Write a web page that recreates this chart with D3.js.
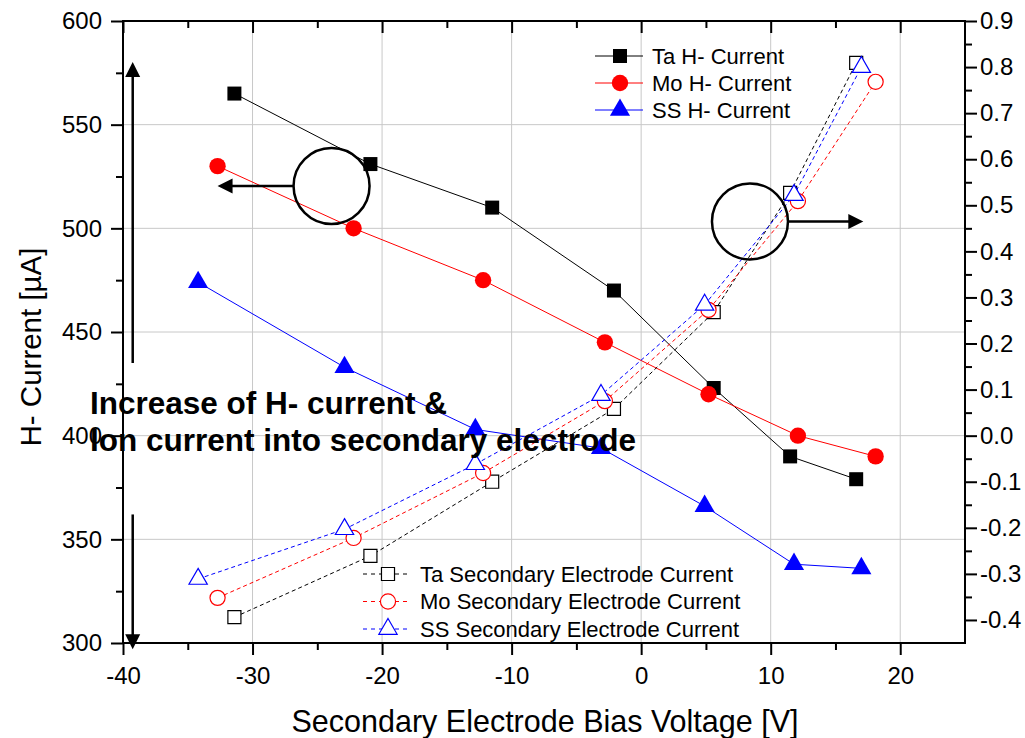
<!DOCTYPE html>
<html>
<head>
<meta charset="utf-8">
<script src="https://cdn.jsdelivr.net/npm/d3@7"></script>
<style>
body { margin: 0; background: #fff; }
svg { display: block; font-family: "Liberation Sans", Arial, sans-serif; }
</style>
</head>
<body>
<div id="chart"></div>
<script>
// bias voltage of each point, per target material
const taBias = [-31.4, -20.9, -11.5, -2.1, 5.6, 11.5, 16.6];
const moBias = [-32.7, -22.2, -12.2, -2.8, 5.2, 12.1, 18.1];
const ssBias = [-34.2, -22.9, -12.8, -3.1, 4.9, 11.8, 17.0];

// H- current [uA] (left axis)
const taH = [565, 531, 510, 470, 423, 390, 379];
const moH = [530, 500, 475, 445, 420, 400, 390];
const ssH = [474, 433, 403, 394, 366, 338, 336];

// secondary electrode current (right axis)
const taSec = [-0.394, -0.261, -0.100, 0.058, 0.268, 0.527, 0.809];
const moSec = [-0.352, -0.222, -0.081, 0.075, 0.273, 0.509, 0.768];
const ssSec = [-0.311, -0.203, -0.062, 0.088, 0.284, 0.522, 0.800];

const xTicks = [-40, -30, -20, -10, 0, 10, 20];
const leftTicks = [300, 350, 400, 450, 500, 550, 600];
const rightTicks = d3.range(-4, 10).map(i => i / 10);

const width = 1025, height = 738;
const margin = { top: 21, right: 60, bottom: 95, left: 123 };

const svg = d3.select("#chart").append("svg")
    .attr("width", width)
    .attr("height", height);

const x = d3.scaleLinear().domain([-40, 25]).range([margin.left, width - margin.right]);
const y = d3.scaleLinear().domain([300, 600]).range([height - margin.bottom, margin.top]);
const y2 = d3.scaleLinear().domain([-0.45, 0.9]).range([height - margin.bottom, margin.top]);

// grid
svg.append("g").selectAll("line")
    .data(xTicks.slice(1))
    .join("line")
    .attr("x1", d => x(d)).attr("x2", d => x(d))
    .attr("y1", margin.top).attr("y2", height - margin.bottom)
    .attr("stroke", "#c8c8c8").attr("stroke-width", 1);

svg.append("g").selectAll("line")
    .data(leftTicks.slice(1, -1))
    .join("line")
    .attr("x1", margin.left).attr("x2", width - margin.right)
    .attr("y1", d => y(d)).attr("y2", d => y(d))
    .attr("stroke", "#c8c8c8").attr("stroke-width", 1);

const series = [
    { name: "Ta H- Current", xs: taBias, ys: taH, sc: y, color: "#000", shape: d3.symbolSquare, size: 196, filled: true },
    { name: "Mo H- Current", xs: moBias, ys: moH, sc: y, color: "#f00", shape: d3.symbolCircle, size: 210, filled: true },
    { name: "SS H- Current", xs: ssBias, ys: ssH, sc: y, color: "#00f", shape: d3.symbolTriangle, size: 175, filled: true },
    { name: "Ta Secondary Electrode Current", xs: taBias, ys: taSec, sc: y2, color: "#000", shape: d3.symbolSquare, size: 170, filled: false },
    { name: "Mo Secondary Electrode Current", xs: moBias, ys: moSec, sc: y2, color: "#f00", shape: d3.symbolCircle, size: 180, filled: false },
    { name: "SS Secondary Electrode Current", xs: ssBias, ys: ssSec, sc: y2, color: "#00f", shape: d3.symbolTriangle, size: 145, filled: false }
];

series.forEach(s => {
    const pts = s.xs.map((v, i) => [v, s.ys[i]]);
    const line = d3.line().x(d => x(d[0])).y(d => s.sc(d[1]));
    svg.append("path")
        .attr("d", line(pts))
        .attr("fill", "none")
        .attr("stroke", s.color)
        .attr("stroke-width", 1)
        .attr("stroke-dasharray", s.filled ? null : "4,3");
});

series.forEach(s => {
    const pts = s.xs.map((v, i) => [v, s.ys[i]]);
    svg.append("g").selectAll("path")
        .data(pts)
        .join("path")
        .attr("transform", d => `translate(${x(d[0])},${s.sc(d[1])})`)
        .attr("d", d3.symbol().type(s.shape).size(s.size))
        .attr("fill", s.filled ? s.color : "#fff")
        .attr("stroke", s.color)
        .attr("stroke-width", s.filled ? 0 : 1.2);
});

// axes
const fmt = d => String(d);
const styleAxis = g => {
    g.select(".domain").remove();
    g.selectAll(".tick line").attr("stroke", "#000").attr("stroke-width", 2);
    g.selectAll("text").attr("fill", "#000").attr("font-size", 24)
        .attr("font-family", "'Liberation Sans', Arial, sans-serif");
};

const minorX = d3.range(-35, 25, 10);
svg.append("g")
    .attr("transform", `translate(0,${height - margin.bottom})`)
    .call(d3.axisBottom(x).tickValues(xTicks).tickFormat(fmt).tickSize(12).tickPadding(12))
    .call(styleAxis);
svg.append("g")
    .attr("transform", `translate(0,${height - margin.bottom})`)
    .call(d3.axisBottom(x).tickValues(minorX).tickFormat("").tickSize(7))
    .call(styleAxis);
svg.append("g")
    .attr("transform", `translate(0,${margin.top})`)
    .call(d3.axisBottom(x).tickValues(xTicks).tickFormat("").tickSize(12))
    .call(styleAxis);
svg.append("g")
    .attr("transform", `translate(0,${margin.top})`)
    .call(d3.axisBottom(x).tickValues(minorX).tickFormat("").tickSize(7))
    .call(styleAxis);

svg.append("g")
    .attr("transform", `translate(${margin.left},0)`)
    .call(d3.axisLeft(y).tickValues(leftTicks).tickFormat(fmt).tickSize(12).tickPadding(9))
    .call(styleAxis);
svg.append("g")
    .attr("transform", `translate(${margin.left},0)`)
    .call(d3.axisLeft(y).tickValues(d3.range(325, 600, 50)).tickFormat("").tickSize(7))
    .call(styleAxis);

svg.append("g")
    .attr("transform", `translate(${width - margin.right},0)`)
    .call(d3.axisRight(y2).tickValues(rightTicks).tickFormat(d => d.toFixed(1)).tickSize(12).tickPadding(3))
    .call(styleAxis);
svg.append("g")
    .attr("transform", `translate(${width - margin.right},0)`)
    .call(d3.axisRight(y2).tickValues(d3.range(-4, 9).map(i => i / 10 + 0.05)).tickFormat("").tickSize(7))
    .call(styleAxis);

svg.append("rect")
    .attr("x", margin.left).attr("y", margin.top)
    .attr("width", width - margin.left - margin.right)
    .attr("height", height - margin.top - margin.bottom)
    .attr("fill", "none").attr("stroke", "#000").attr("stroke-width", 2);

// axis titles
svg.append("text")
    .attr("x", 545)
    .attr("y", 732)
    .attr("text-anchor", "middle")
    .attr("font-size", 30.5)
    .text("Secondary Electrode Bias Voltage [V]");

svg.append("text")
    .attr("transform", "translate(41,347) rotate(-90)")
    .attr("text-anchor", "middle")
    .attr("font-size", 29.5)
    .text("H- Current [\u00b5A]");

// legends
function legend(items, x0, y0, dy, dashed) {
    items.forEach((s, i) => {
        const g = svg.append("g").attr("transform", `translate(${x0},${y0 + i * dy})`);
        g.append("line")
            .attr("x1", 0).attr("x2", 48)
            .attr("stroke", s.color).attr("stroke-width", 1)
            .attr("stroke-dasharray", dashed ? "4,4" : null);
        g.append("path")
            .attr("transform", "translate(25,0)")
            .attr("d", d3.symbol().type(s.shape).size(s.size))
            .attr("fill", s.filled ? s.color : "#fff")
            .attr("stroke", s.color)
            .attr("stroke-width", s.filled ? 0 : 1.2);
        g.append("text")
            .attr("x", 57).attr("dy", "0.35em")
            .attr("font-size", 22)
            .text(s.name);
    });
}
legend(series.slice(0, 3), 595, 56, 27, false);
legend(series.slice(3), 363, 574, 27.5, true);

// annotations: circles with arrows
const arrowHead = (g, tx, ty, dir) => {
    // dir: "left", "right", "up", "down"
    const L = 15, W = 7.5;
    let p;
    if (dir === "left") p = [[tx, ty], [tx + L, ty - W], [tx + L, ty + W]];
    if (dir === "right") p = [[tx, ty], [tx - L, ty - W], [tx - L, ty + W]];
    if (dir === "up") p = [[tx, ty], [tx - W, ty + L], [tx + W, ty + L]];
    if (dir === "down") p = [[tx, ty], [tx - W, ty - L], [tx + W, ty - L]];
    g.append("path").attr("d", "M" + p.join("L") + "Z").attr("fill", "#000");
};

const ann = svg.append("g");
const r = 38;
const c1 = [x(-23.9), y(520.4)];
ann.append("circle").attr("cx", c1[0]).attr("cy", c1[1]).attr("r", r)
    .attr("fill", "none").attr("stroke", "#000").attr("stroke-width", 2.5);
ann.append("line").attr("x1", c1[0] - r).attr("x2", x(-32.7) + 10)
    .attr("y1", c1[1]).attr("y2", c1[1]).attr("stroke", "#000").attr("stroke-width", 2.5);
arrowHead(ann, x(-32.7), c1[1], "left");

const c2 = [x(8.4), y2(0.465)];
ann.append("circle").attr("cx", c2[0]).attr("cy", c2[1]).attr("r", r)
    .attr("fill", "none").attr("stroke", "#000").attr("stroke-width", 2.5);
ann.append("line").attr("x1", c2[0] + r).attr("x2", x(17.15) - 10)
    .attr("y1", c2[1]).attr("y2", c2[1]).attr("stroke", "#000").attr("stroke-width", 2.5);
arrowHead(ann, x(17.15), c2[1], "right");

const ax = x(-39.25);
ann.append("line").attr("x1", ax).attr("x2", ax)
    .attr("y1", y(435)).attr("y2", y(580) + 10)
    .attr("stroke", "#000").attr("stroke-width", 2.5);
arrowHead(ann, ax, y(580.2), "up");
ann.append("line").attr("x1", ax).attr("x2", ax)
    .attr("y1", y(362)).attr("y2", y(297) - 10)
    .attr("stroke", "#000").attr("stroke-width", 2.5);
arrowHead(ann, ax, y(297), "down");

const note = svg.append("text")
    .attr("font-size", 31.5)
    .attr("font-weight", "bold");
note.append("tspan").attr("x", 90).attr("y", 414).text("Increase of H- current &");
note.append("tspan").attr("x", 90).attr("y", 451).text("Ion current into secondary electrode");
</script>
</body>
</html>
